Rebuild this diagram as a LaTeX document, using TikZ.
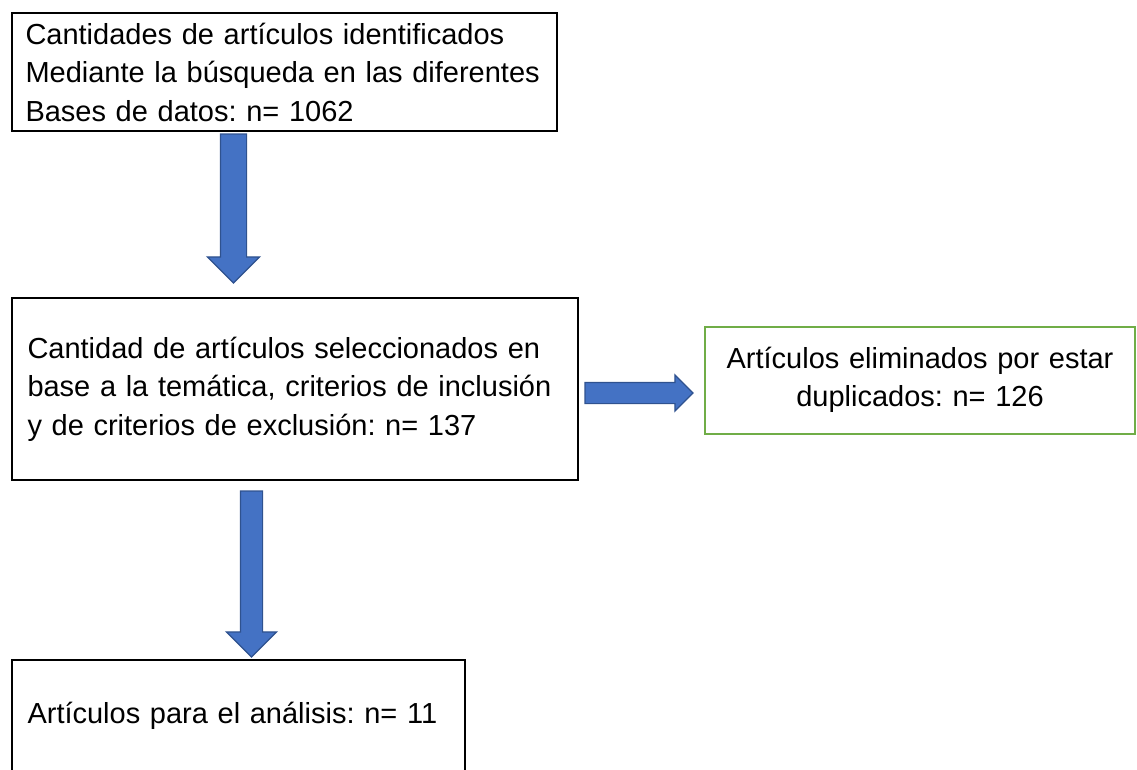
\documentclass[tikz,border=0pt]{standalone}
\usepackage{fontspec}
\setmainfont{Liberation Sans}
\usetikzlibrary{shapes.arrows,calc}
\definecolor{arrowblue}{HTML}{4472C4}
\definecolor{arrowedge}{HTML}{2F528F}
\definecolor{boxgreen}{HTML}{70AD47}
\frenchspacing
\hyphenpenalty=10000
\tikzset{
  stepbox/.style={draw=black,line width=2pt,inner xsep=13.5pt,inner ysep=0pt,outer sep=0pt,
    align=left,font=\fontsize{29}{38.5}\selectfont},
  blockarrow/.style={single arrow,fill=arrowblue,draw=arrowedge,line width=1.2pt,
    inner xsep=0pt,outer sep=0pt,single arrow tip angle=90}
}
\begin{document}
\begin{tikzpicture}[x=1pt,y=-1pt]
  \useasboundingbox (0,0) rectangle (1137,769);

  % boxes
  \node[stepbox,text width=518pt,minimum height=118pt] (ident) at (284.5,72)
    {Cantidades de artículos identificados\\Mediante la búsqueda en las diferentes\\Bases de datos: n= 1062};
  \node[stepbox,inner xsep=15.5pt,text width=535pt,minimum height=182pt] (selec) at (295,389)
    {Cantidad de artículos seleccionados en\\base a la temática, criterios de inclusión\\y de criterios de exclusión: n= 137};
  \node[stepbox,draw=boxgreen,align=center,text width=403pt,minimum height=107pt] (elim) at (920,380)
    {Artículos eliminados por estar\\duplicados: n= 126};
  \node[stepbox,inner xsep=15.5pt,text width=422pt,minimum height=112pt] (anal) at (238.5,716)
    {Artículos para el análisis: n= 11};

  % block arrows
  \node[blockarrow,rotate=-90,anchor=tail,minimum height=149pt,inner ysep=12.5pt,
    single arrow head extend=13pt] (down1) at ($(ident.south west)+(221.5,3)$) {};
  \node[blockarrow,anchor=tail,minimum height=108pt,inner ysep=10pt,
    single arrow head extend=7.5pt] (right1) at ($(selec.east)+(7,4)$) {};
  \node[blockarrow,rotate=-90,anchor=tail,minimum height=166pt,inner ysep=10.5pt,
    single arrow head extend=14pt] (down2) at ($(selec.south west)+(239.5,11)$) {};
\end{tikzpicture}
\end{document}
